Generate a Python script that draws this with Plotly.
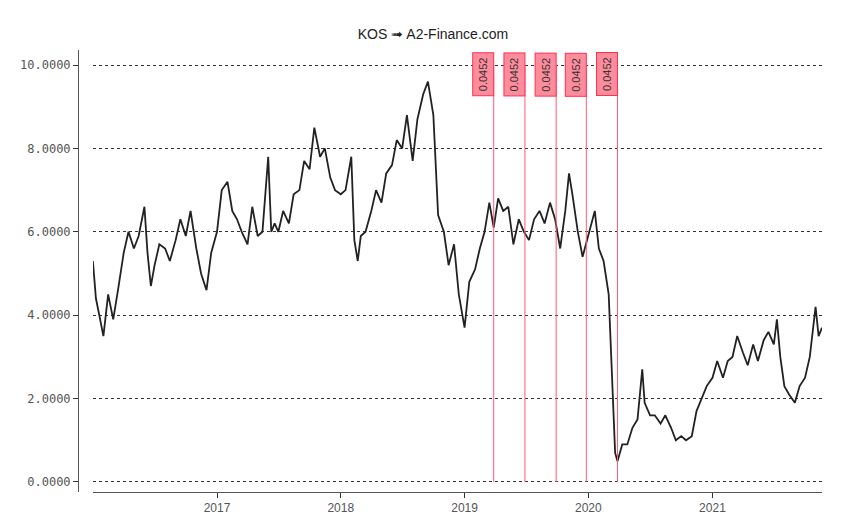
import plotly.graph_objects as go

dates = [
    "2016-01-01", "2016-01-10", "2016-01-20", "2016-02-01", "2016-02-15", "2016-03-01", "2016-03-15",
    "2016-04-01", "2016-04-15", "2016-05-01", "2016-05-15", "2016-06-01", "2016-06-10", "2016-06-20",
    "2016-07-01", "2016-07-15", "2016-08-01", "2016-08-15", "2016-09-01", "2016-09-15", "2016-10-01",
    "2016-10-15", "2016-11-01", "2016-11-15", "2016-12-01", "2016-12-15",
    "2017-01-01", "2017-01-15", "2017-02-01", "2017-02-15", "2017-03-01", "2017-03-15", "2017-04-01",
    "2017-04-15", "2017-05-01", "2017-05-15", "2017-06-01", "2017-06-10", "2017-06-20", "2017-07-01",
    "2017-07-15", "2017-08-01", "2017-08-15", "2017-09-01", "2017-09-15", "2017-10-01", "2017-10-15",
    "2017-11-01", "2017-11-15", "2017-12-01", "2017-12-15",
    "2018-01-01", "2018-01-15", "2018-02-01", "2018-02-10", "2018-02-20", "2018-03-01", "2018-03-15",
    "2018-04-01", "2018-04-15", "2018-05-01", "2018-05-15", "2018-06-01", "2018-06-15", "2018-07-01",
    "2018-07-15", "2018-08-01", "2018-08-15", "2018-09-01", "2018-09-15", "2018-10-01", "2018-10-15",
    "2018-11-01", "2018-11-15", "2018-12-01", "2018-12-15",
    "2019-01-01", "2019-01-15", "2019-02-01", "2019-02-15", "2019-03-01", "2019-03-15", "2019-03-28",
    "2019-04-10", "2019-04-25", "2019-05-10", "2019-05-25", "2019-06-10", "2019-06-25", "2019-07-10",
    "2019-07-25", "2019-08-10", "2019-08-25", "2019-09-10", "2019-09-25", "2019-10-10", "2019-10-25",
    "2019-11-05", "2019-11-15", "2019-12-01", "2019-12-15", "2019-12-28",
    "2020-01-10", "2020-01-20", "2020-02-01", "2020-02-15", "2020-03-01", "2020-03-10", "2020-03-20",
    "2020-03-27", "2020-04-10", "2020-04-25", "2020-05-10", "2020-05-25", "2020-06-08", "2020-06-15",
    "2020-07-01", "2020-07-15", "2020-08-01", "2020-08-15", "2020-09-01", "2020-09-15", "2020-10-01",
    "2020-10-15", "2020-11-01", "2020-11-15", "2020-12-01", "2020-12-15",
    "2021-01-01", "2021-01-15", "2021-02-01", "2021-02-15", "2021-03-01", "2021-03-15", "2021-04-01",
    "2021-04-15", "2021-05-01", "2021-05-15", "2021-06-01", "2021-06-15", "2021-07-01", "2021-07-10",
    "2021-07-20", "2021-08-01", "2021-08-15", "2021-09-01", "2021-09-15", "2021-10-01", "2021-10-15",
    "2021-11-01", "2021-11-10", "2021-11-20",
]
prices = [
    5.3, 4.4, 4.0, 3.5, 4.5, 3.9, 4.6, 5.5, 6.0, 5.6, 5.9, 6.6, 5.5, 4.7, 5.2, 5.7, 5.6, 5.3, 5.8, 6.3,
    5.9, 6.5, 5.6, 5.0, 4.6, 5.5,
    6.0, 7.0, 7.2, 6.5, 6.3, 6.0, 5.7, 6.6, 5.9, 6.0, 7.8, 6.0, 6.2, 6.0, 6.5, 6.2, 6.9, 7.0, 7.7,
    7.5, 8.5, 7.8, 8.0, 7.3, 7.0,
    6.9, 7.0, 7.8, 5.8, 5.3, 5.9, 6.0, 6.5, 7.0, 6.7, 7.4, 7.6, 8.2, 8.0, 8.8, 7.7, 8.7, 9.3, 9.6,
    8.8, 6.4, 6.0, 5.2, 5.7, 4.5,
    3.7, 4.8, 5.1, 5.6, 6.0, 6.7, 6.1, 6.8, 6.5, 6.6, 5.7, 6.3, 6.0, 5.8, 6.3, 6.5, 6.2, 6.7, 6.3,
    5.6, 6.5, 7.4, 6.9, 6.0, 5.4, 5.8,
    6.2, 6.5, 5.6, 5.3, 4.5, 2.6, 0.7, 0.5, 0.9, 0.9, 1.3, 1.5, 2.7, 1.9, 1.6, 1.6, 1.4, 1.6, 1.3,
    1.0, 1.1, 1.0, 1.1, 1.7, 2.0, 2.3,
    2.5, 2.9, 2.5, 2.9, 3.0, 3.5, 3.1, 2.8, 3.3, 2.9, 3.4, 3.6, 3.3, 3.9, 3.0, 2.3, 2.1, 1.9, 2.3,
    2.5, 3.0, 4.2, 3.5, 3.7,
]
div_dates = ["2019-03-28", "2019-06-28", "2019-09-28", "2019-12-26", "2020-03-27"]
div_values = [0.0452, 0.0452, 0.0452, 0.0452, 0.0452]
year_ticks = ["2017-01-01", "2018-01-01", "2019-01-01", "2020-01-01", "2021-01-01"]
year_labels = ["2017", "2018", "2019", "2020", "2021"]

fig = go.Figure()
fig.add_trace(go.Scatter(x=dates, y=prices, mode="lines",
                         line=dict(color="#222222", width=1.8), showlegend=False))

for d, v in zip(div_dates, div_values):
    fig.add_shape(type="line", x0=d, x1=d, y0=0, y1=10, xref="x", yref="y",
                  line=dict(color="#ff5a78", width=1))
    fig.add_annotation(x=d, y=10.3, xref="x", yref="y", text=f"{v:.4f}", textangle=-90,
                       xanchor="right", yanchor="top", showarrow=False,
                       bgcolor="#ff8c9c", bordercolor="#ff3050", borderwidth=1, borderpad=4,
                       font=dict(family="Liberation Sans", size=11, color="#333"))

fig.update_layout(
    width=850, height=526, plot_bgcolor="white", paper_bgcolor="white",
    margin=dict(l=70, r=36, t=42, b=42),
    title=dict(text="KOS ➟ A2-Finance.com", x=0.5, y=0.96, xanchor="center",
               font=dict(family="Liberation Sans", size=14, color="#222")),
    xaxis=dict(domain=[0.02, 1], range=["2016-01-01", "2021-11-20"], showgrid=False,
               showline=True, linecolor="#555", ticks="outside", ticklen=5, tickcolor="#333",
               tickvals=year_ticks, ticktext=year_labels,
               tickfont=dict(family="Liberation Sans", size=12, color="#555")),
    yaxis=dict(anchor="free", position=0, range=[-0.24, 10.36], tickvals=[0, 2, 4, 6, 8, 10],
               tickformat=".4f", showline=True, linecolor="#555", ticks="outside", ticklen=5,
               tickcolor="#333", gridcolor="#333", griddash="dot", zeroline=False,
               tickfont=dict(family="DejaVu Sans Mono", size=12, color="#555")),
)

fig.write_html("out.html")
